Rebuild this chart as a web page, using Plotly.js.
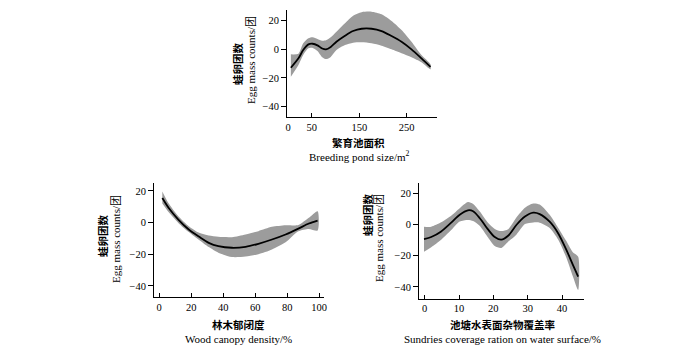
<!DOCTYPE html>
<html>
<head>
<meta charset="utf-8">
<script src="https://cdn.plot.ly/plotly-3.0.1.min.js"></script>
<style>html,body{margin:0;padding:0;background:#fff;}#chart{width:700px;height:350px;}</style>
</head>
<body>
<div id="chart"></div>
<script>
// Panel A: Breeding pond size
const xA     = [6, 22, 32, 43, 52, 62, 72, 80, 90, 102, 120, 137, 155, 176, 197, 218, 239, 260, 281, 300];
const fitA   = [-12.9, -6.3, -0.5, 3.5, 3.9, 2.8, 0.6, 0.0, 1.7, 5.3, 9.5, 12.8, 14.4, 14.4, 12.8, 9.3, 5.3, 0.0, -6.3, -12.2];
const upperA = [-3.5, -3.0, 4.2, 7.7, 8.4, 7.2, 6.0, 6.3, 8.4, 12.3, 18.2, 23.5, 26.0, 26.3, 24.5, 19.8, 13.5, 5.3, -4.0, -10.5];
const lowerA = [-19.2, -11.0, -4.0, 0.7, 1.0, -1.2, -5.5, -6.8, -5.3, -0.5, 3.0, 4.6, 4.9, 4.2, 2.5, 0.0, -2.8, -5.6, -9.1, -14.0];

// Panel B: Wood canopy density
const xB     = [2, 6, 12, 18.5, 25, 31, 37, 45.5, 54, 62, 70.5, 79, 87, 93.5, 99];
const fitB   = [15.5, 9.2, 1.9, -4.4, -9.0, -12.8, -14.9, -15.9, -15.3, -13.4, -10.7, -7.5, -3.8, -0.6, 1.3];
const upperB = [19.7, 12.0, 4.0, -2.3, -6.5, -8.2, -9.0, -9.2, -7.5, -5.4, -2.7, -1.7, -1.5, 3.0, 7.2];
const lowerB = [12.0, 6.5, -0.2, -6.0, -11.0, -15.5, -19.0, -21.8, -21.5, -20.0, -17.0, -12.5, -5.5, -4.0, -5.0];

// Panel C: Sundries coverage ratio
const xC     = [-0.2, 1.9, 4.8, 7.8, 10.2, 12.6, 14.1, 16, 18.5, 20.4, 22.3, 24.3, 26.7, 29.2, 31.6, 33.5, 36.4, 38.9, 41.3, 43.2, 44.7];
const fitC   = [-9.3, -8.0, -4.4, 1.4, 6.3, 9.1, 8.5, 4.2, -3.3, -8.0, -9.7, -7.2, -0.3, 5.1, 7.6, 6.7, 1.8, -5.7, -16.4, -26.0, -33.4];
const upperC = [-1.4, -1.4, 1.4, 5.8, 10.5, 14.4, 13.2, 8.5, 1.0, -2.8, -4.2, -3.0, 4.5, 10.8, 13.5, 12.8, 6.2, -2.2, -10.8, -18.0, -20.6];
const lowerC = [-17.4, -14.5, -9.7, -3.4, 1.9, 2.9, 2.2, -0.8, -8.5, -13.8, -15.0, -11.0, -6.5, 0.3, 1.3, 1.2, -2.2, -9.7, -21.4, -33.4, -41.9];

// Tick labels
const ticksA = [0, 50, 150, 250];
const ticksB = [0, 20, 40, 60, 80, 100];
const ticksC = [0, 10, 20, 30, 40];
const ticksY = [-40, -20, 0, 20];

const yTitleCN = '蛙卵团数';
const yTitleEN = 'Egg mass counts/团';
const xTitles = [
  ['繁育池面积', 'Breeding pond size/m<sup>2</sup>'],
  ['林木郁闭度', 'Wood canopy density/%'],
  ['池塘水表面杂物覆盖率', 'Sundries coverage ration on water surface/%']
];

const BAND = '#9c9c9c';
function panel(x, fit, up, lo, xa, ya) {
  return [
    { x: x.concat(x.slice().reverse()), y: up.concat(lo.slice().reverse()),
      xaxis: xa, yaxis: ya, mode: 'lines', fill: 'toself', fillcolor: BAND,
      line: { width: 0, shape: 'spline', smoothing: 0.7 }, hoverinfo: 'skip', showlegend: false },
    { x: x, y: fit, xaxis: xa, yaxis: ya, mode: 'lines',
      line: { color: '#000', width: 1.8, shape: 'spline', smoothing: 0.8 }, showlegend: false }
  ];
}

const data = [].concat(
  panel(xA, fitA, upperA, lowerA, 'x', 'y'),
  panel(xB, fitB, upperB, lowerB, 'x2', 'y2'),
  panel(xC, fitC, upperC, lowerC, 'x3', 'y3')
);

const tickFont = { family: 'Liberation Serif, serif', size: 10.5, color: '#000' };
function xax(domain, range, vals, anchor) {
  return { domain: domain, range: range, tickvals: vals, ticktext: vals.map(String), anchor: anchor,
    showgrid: false, zeroline: false, showline: true, linecolor: '#000', linewidth: 1,
    ticks: 'inside', ticklen: 4, tickcolor: '#000', tickwidth: 1, tickfont: tickFont, fixedrange: true };
}
function yax(domain, range, anchor) {
  return { domain: domain, range: range, tickvals: ticksY, anchor: anchor,
    showgrid: false, zeroline: false, showline: true, linecolor: '#000', linewidth: 1,
    ticks: 'outside', ticklen: 5, tickcolor: '#000', tickwidth: 1, tickfont: tickFont, fixedrange: true };
}

const W = 700, H = 350;
const cn = { family: 'Noto Sans CJK SC, sans-serif', size: 10.5, color: '#000', weight: 'bold' };
const en = { family: 'Liberation Serif, Noto Sans CJK SC, serif', size: 11, color: '#000' };
function ann(text, px, py, font, angle) {
  return { text: text, x: px / W, y: 1 - py / H, xref: 'paper', yref: 'paper',
    xanchor: 'center', yanchor: 'middle', showarrow: false, font: font, textangle: angle || 0 };
}

const annotations = [
  ann('<b>' + yTitleCN + '</b>', 238, 64, cn, -90),
  ann(yTitleEN, 251, 60, en, -90),
  ann('<b>' + yTitleCN + '</b>', 102, 236, cn, -90),
  ann(yTitleEN, 116, 239, en, -90),
  ann('<b>' + yTitleCN + '</b>', 367, 214, cn, -90),
  ann(yTitleEN, 379, 238, en, -90),
  ann('<b>' + xTitles[0][0] + '</b>', 358, 142, cn),
  ann(xTitles[0][1], 360, 156, en),
  ann('<b>' + xTitles[1][0] + '</b>', 238, 324.5, cn),
  ann(xTitles[1][1], 238, 339, en),
  ann('<b>' + xTitles[2][0] + '</b>', 503, 324.5, cn),
  ann(xTitles[2][1], 503, 339, en)
];

const layout = {
  width: W, height: H, margin: { l: 0, r: 0, t: 0, b: 0 },
  paper_bgcolor: '#fff', plot_bgcolor: '#fff', showlegend: false,
  xaxis:  xax([287 / W, 437 / W], [-2.1, 313.7], ticksA, 'y'),
  yaxis:  yax([1 - 117 / H, 1 - 10 / H], [-47.3, 27.5], 'x'),
  xaxis2: xax([154 / W, 324 / W], [-3.2, 103], ticksB, 'y2'),
  yaxis2: yax([1 - 297 / H, 1 - 183 / H], [-47, 25], 'x2'),
  xaxis3: xax([419 / W, 584 / W], [-1.66, 46.4], ticksC, 'y3'),
  yaxis3: yax([1 - 298.5 / H, 1 - 183 / H], [-47.4, 26.6], 'x3'),
  annotations: annotations
};

Plotly.newPlot('chart', data, layout, { staticPlot: true, displayModeBar: false });
</script>
</body>
</html>
